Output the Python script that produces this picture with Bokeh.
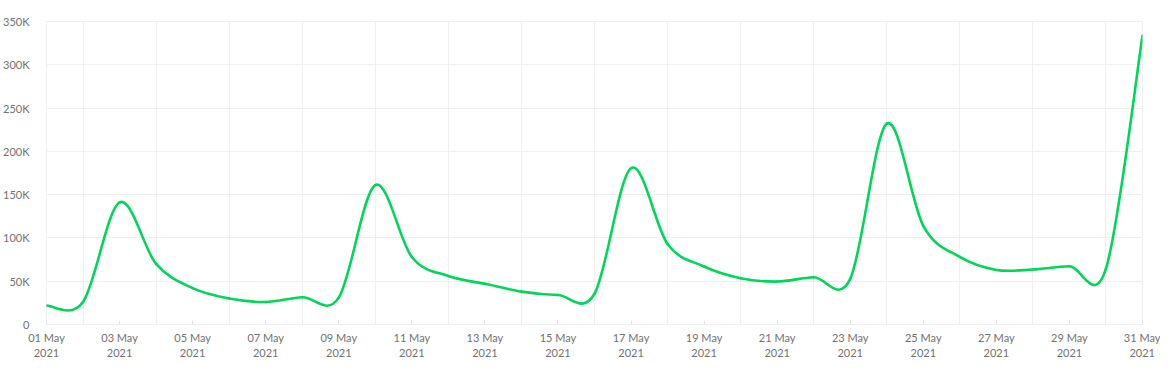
from bokeh.plotting import figure
from bokeh.models import FixedTicker, Range1d
from bokeh.embed import file_html
from bokeh.resources import INLINE

# ---- data ----
days = list(range(1, 32))
values = [22000, 26000, 141000, 70000, 42000, 30000, 26000, 31500, 31000, 161000,
          78000, 56000, 47000, 38000, 34000, 35500, 180500, 93000, 67000, 53500,
          49600, 54600, 52700, 232000, 114000, 78000, 63000, 63500, 67300, 64500,
          333500]
x_tick_days = [1, 3, 5, 7, 9, 11, 13, 15, 17, 19, 21, 23, 25, 27, 29, 31]
x_tick_labels = ["01 May\n2021", "03 May\n2021", "05 May\n2021", "07 May\n2021",
                 "09 May\n2021", "11 May\n2021", "13 May\n2021", "15 May\n2021",
                 "17 May\n2021", "19 May\n2021", "21 May\n2021", "23 May\n2021",
                 "25 May\n2021", "27 May\n2021", "29 May\n2021", "31 May\n2021"]
y_ticks = [0, 50000, 100000, 150000, 200000, 250000, 300000, 350000]
y_tick_labels = ["0", "50K", "100K", "150K", "200K", "250K", "300K", "350K"]
grid_days = [2, 4, 6, 8, 10, 12, 14, 16, 18, 20, 22, 24, 26, 28, 30]

GRID = "#efefef"
TXT = "#717171"
GREEN = "#00d65a"
FONT = "Lato"

p = figure(width=1160, height=362, output_backend="svg", toolbar_location=None,
           x_range=Range1d(1, 31), y_range=Range1d(0, 350000),
           min_border_left=44, min_border_right=18, min_border_top=21,
           min_border_bottom=38)
p.background_fill_color = "white"
p.border_fill_color = "white"
p.outline_line_color = GRID
p.outline_line_width = 1

# grids
p.xgrid.ticker = FixedTicker(ticks=grid_days)
p.ygrid.ticker = FixedTicker(ticks=y_ticks)
p.xgrid.grid_line_color = GRID
p.ygrid.grid_line_color = GRID
p.xgrid.grid_line_width = 1
p.ygrid.grid_line_width = 1

# x axis
xa = p.xaxis[0]
xa.ticker = FixedTicker(ticks=x_tick_days)
xa.major_label_overrides = {d: lab for d, lab in zip(x_tick_days, x_tick_labels)}
xa.axis_line_color = None
xa.major_tick_in = 4
xa.major_tick_out = 0
xa.major_tick_line_color = "#e2e2e2"
xa.minor_tick_line_color = None
xa.major_label_text_font = FONT
xa.major_label_text_font_size = "11px"
xa.major_label_text_color = TXT
xa.major_label_standoff = 6

# y axis
ya = p.yaxis[0]
ya.ticker = FixedTicker(ticks=y_ticks)
ya.major_label_overrides = {v: lab for v, lab in zip(y_ticks, y_tick_labels)}
ya.axis_line_color = None
ya.major_tick_line_color = None
ya.minor_tick_line_color = None
ya.major_label_text_font = FONT
ya.major_label_text_font_size = "11px"
ya.major_label_text_color = TXT
ya.major_label_standoff = 11

# smooth curve (Catmull-Rom segments drawn as cubic Beziers from the data)
n = len(days)
x0s, y0s, x1s, y1s, cx0s, cy0s, cx1s, cy1s = [], [], [], [], [], [], [], []
for i in range(n - 1):
    xp, yp = (days[i - 1], values[i - 1]) if i > 0 else (days[i], values[i])
    xa_, ya_ = days[i], values[i]
    xb, yb = days[i + 1], values[i + 1]
    xn, yn = (days[i + 2], values[i + 2]) if i + 2 < n else (days[i + 1], values[i + 1])
    x0s.append(xa_); y0s.append(ya_)
    x1s.append(xb); y1s.append(yb)
    cx0s.append(xa_ + (xb - xp) / 6.0); cy0s.append(ya_ + (yb - yp) / 6.0)
    cx1s.append(xb - (xn - xa_) / 6.0); cy1s.append(yb - (yn - ya_) / 6.0)

p.bezier(x0=x0s, y0=y0s, x1=x1s, y1=y1s, cx0=cx0s, cy0=cy0s, cx1=cx1s, cy1=cy1s,
         line_color=GREEN, line_width=2.6, line_cap="round", line_join="round")

open("out.html", "w").write(file_html(p, INLINE))
